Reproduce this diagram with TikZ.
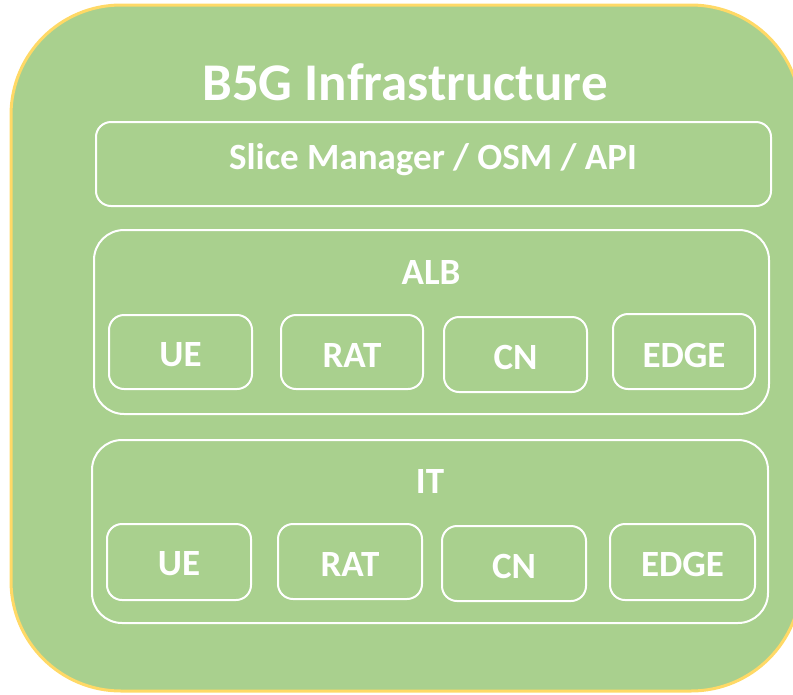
\documentclass[tikz,border=0pt]{standalone}
\usepackage{fontspec}
\setmainfont{Carlito}
\definecolor{leaf}{HTML}{A9D08E}
\definecolor{gold}{HTML}{FFD966}
\begin{document}
\begin{tikzpicture}[x=1pt,y=-1pt,
  panel/.style={draw=white,line width=2pt,rounded corners=30pt},
  cell/.style={draw=white,line width=2pt,rounded corners=15pt},
  lbl/.style={text=white,font=\fontsize{37}{42}\selectfont\bfseries,inner sep=0pt}]
\useasboundingbox (0,0) rectangle (793,694);
% outer infrastructure frame
\draw[fill=leaf,draw=gold,line width=3pt,rounded corners=110pt] (11,5) rectangle (801,691);
\node[text=white,font=\fontsize{53}{60}\selectfont\bfseries,inner sep=0pt] (title) at (405,82) {B5G Infrastructure};
% management layer
\draw[cell] (96,122) rectangle (771,206);
\node[lbl] (slice) at (433,160) {Slice Manager / OSM / API};
% ALB layer
\draw[panel] (94,230) rectangle (769,414);
\node[lbl] (alb) at (431,272) {ALB};
\draw[cell] (109,315) rectangle (252,389);
\node[lbl] (albue) at (180.5,355) {UE};
\draw[cell] (281,315) rectangle (423,389);
\node[lbl] (albrat) at (352,355) {RAT};
\draw[cell] (444,317) rectangle (587,392);
\node[lbl] (albcn) at (515.5,357) {CN};
\draw[cell] (613,314) rectangle (755,389);
\node[lbl] (albedge) at (684,355) {EDGE};
% IT layer
\draw[panel] (92,440) rectangle (768,623);
\node[lbl] (it) at (430,481) {IT};
\draw[cell] (107,524) rectangle (251,600);
\node[lbl] (itue) at (179,564) {UE};
\draw[cell] (278,524) rectangle (422,599);
\node[lbl] (itrat) at (350,564) {RAT};
\draw[cell] (442,526) rectangle (586,601);
\node[lbl] (itcn) at (514,566) {CN};
\draw[cell] (610,524) rectangle (755,600);
\node[lbl] (itedge) at (682.5,564) {EDGE};
\end{tikzpicture}
\end{document}
